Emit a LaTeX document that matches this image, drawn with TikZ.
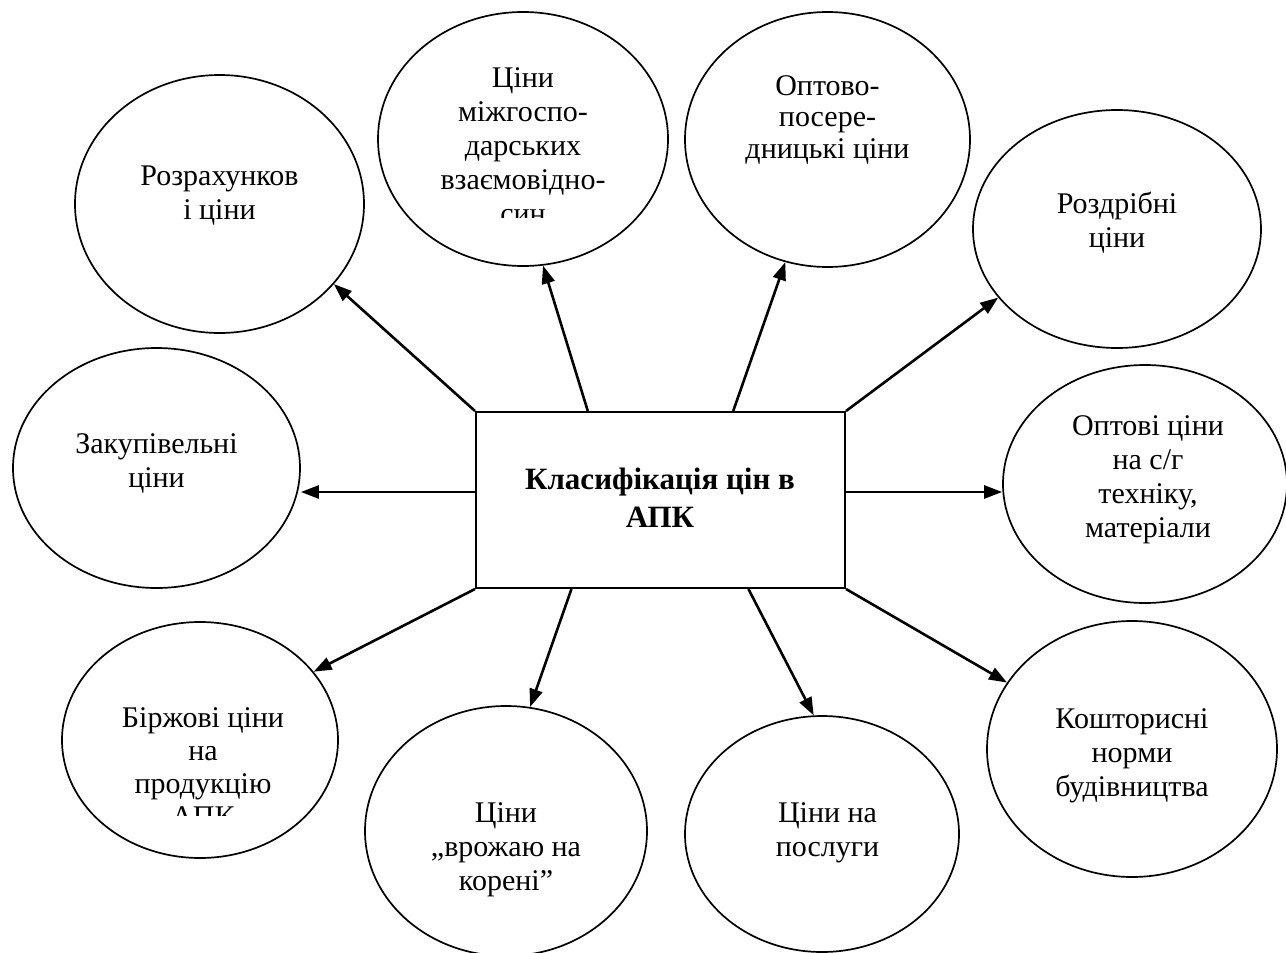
\documentclass[tikz,border=0pt]{standalone}
\usepackage{fontspec}
\setmainfont{Liberation Serif}
\usetikzlibrary{arrows.meta,calc,shapes.geometric}

\tikzset{
  ell/.style={draw, ellipse, line width=1.7pt, inner sep=0pt},
  lbl/.style={anchor=base, inner sep=0pt, font=\fontsize{30}{34}\selectfont},
  ttl/.style={anchor=base, inner sep=0pt, font=\fontsize{31}{38}\selectfont\bfseries},
  arr/.style={line width=2.6pt, -{Triangle[length=18pt,width=13pt]}},
}
\newcommand{\lines}[1]{\begin{tabular}[t]{@{}c@{}}#1\end{tabular}}

\begin{document}
\begin{tikzpicture}[x=1pt, y=-1pt]
  \useasboundingbox (0,0) rectangle (1286,953);

  % central box
  \node[draw, line width=2pt, minimum width=369pt, minimum height=176pt, inner sep=0pt] (box) at (660.5,500) {};
  \node[ttl] (title) at (660,489) {\lines{Класифікація цін в\\АПК}};

  % surrounding ellipses
  \node[ell, minimum width=289pt, minimum height=258pt] (e1) at (219.5,204) {};
  \node[ell, minimum width=290pt, minimum height=254pt] (e2) at (523,139) {};
  \node[ell, minimum width=285pt, minimum height=255pt] (e3) at (827.5,139.5) {};
  \node[ell, minimum width=288pt, minimum height=238pt] (e4) at (1117,229) {};
  \node[ell, minimum width=287pt, minimum height=240pt] (e5) at (156.5,468) {};
  \node[ell, minimum width=284pt, minimum height=238pt] (e6) at (1145,484) {};
  \node[ell, minimum width=276pt, minimum height=236pt] (e7) at (200,740) {};
  \node[ell, minimum width=282pt, minimum height=250pt] (e8) at (506,831) {};
  \node[ell, minimum width=274pt, minimum height=236pt] (e9) at (822,834) {};
  \node[ell, minimum width=290pt, minimum height=256pt] (e10) at (1132,749) {};

  % ellipse captions
  \node[lbl] (t1) at (219.5,185) {\lines{Розрахунков\\і ціни}};
  \begin{scope}
    \clip (380,0) rectangle (680,217);
    \node[lbl] (t2) at (523,87) {\lines{Ціни\\міжгоспо-\\дарських\\взаємовідно-\\син}};
  \end{scope}
  \node[lbl, font=\fontsize{30}{31.5}\selectfont] (t3) at (827.5,95) {\lines{Оптово-\\посере-\\дницькі ціни}};
  \node[lbl] (t4) at (1117,213) {\lines{Роздрібні\\ціни}};
  \node[lbl] (t5) at (156.5,453) {\lines{Закупівельні\\ціни}};
  \node[lbl] (t6) at (1148,435) {\lines{Оптові ціни\\на с/г\\техніку,\\матеріали}};
  \begin{scope}
    \clip (60,600) rectangle (340,815);
    \node[lbl, font=\fontsize{30}{33}\selectfont] (t7) at (203,727) {\lines{Біржові ціни\\на\\продукцію\\АПК}};
  \end{scope}
  \node[lbl] (t8) at (506,822) {\lines{Ціни\\„врожаю на\\корені”}};
  \node[lbl] (t9) at (827.5,822) {\lines{Ціни на\\послуги}};
  \node[lbl] (t10) at (1132,728) {\lines{Кошторисні\\норми\\будівництва}};

  % connectors from the box
  \coordinate (ls) at ($(box.north west)!0.455!(box.south west)$);
  \coordinate (rs) at ($(box.north east)!0.455!(box.south east)$);
  \draw[arr] (box.north west) -- (e1.-35.5);
  \draw[arr] ($(box.north west)!0.304!(box.north east)$) -- (e2.-81.7);
  \draw[arr] ($(box.north west)!0.696!(box.north east)$) -- (e3.-109.7);
  \draw[arr] (box.north east) -- (e4.-150.8);
  \draw[arr] (ls) -- (ls -| e5.east);
  \draw[arr] (rs) -- (rs -| e6.west);
  \draw[arr] (box.south west) -- (e7.31.4);
  \draw[arr] ($(box.south west)!0.26!(box.south east)$) -- (e8.79.5);
  \draw[arr] ($(box.south west)!0.737!(box.south east)$) -- (e9.94.8);
  \draw[arr] (box.south east) -- (e10.152.9);
\end{tikzpicture}
\end{document}
